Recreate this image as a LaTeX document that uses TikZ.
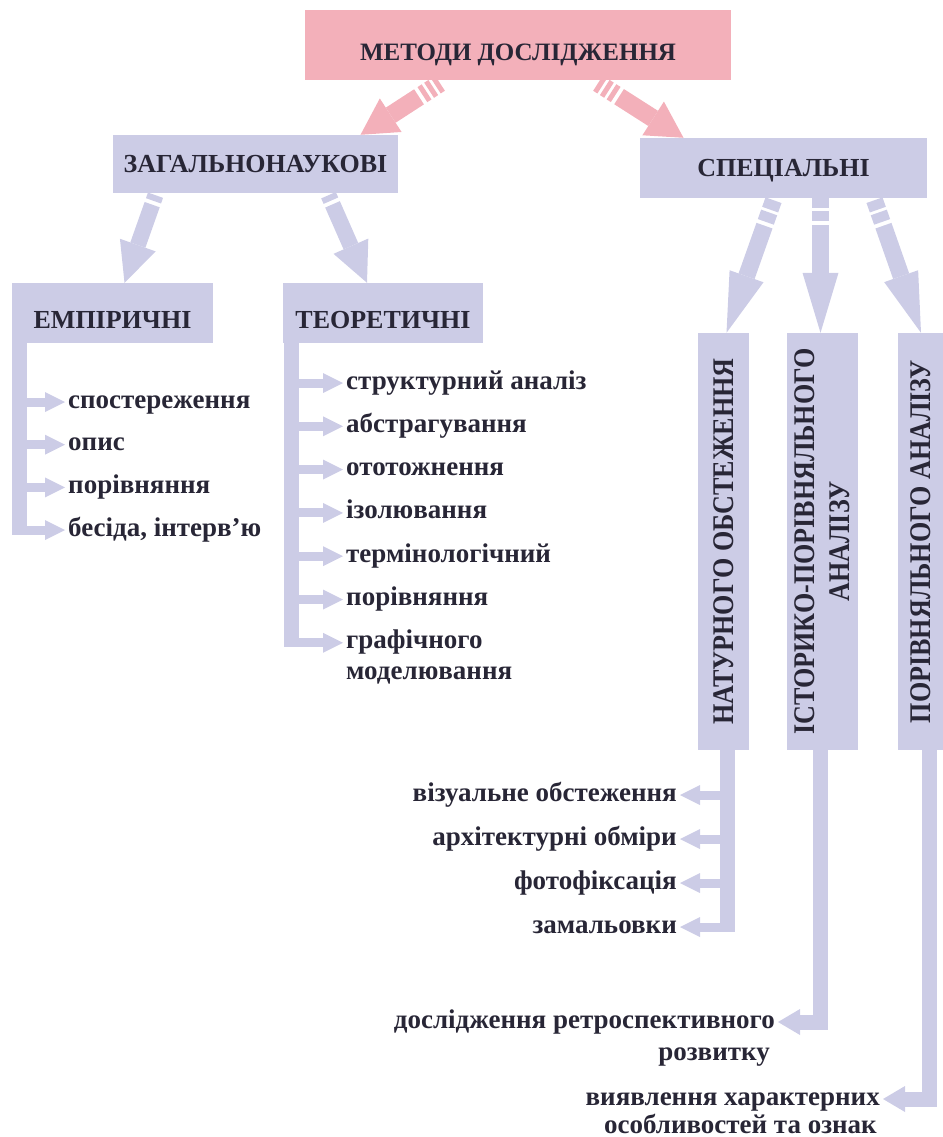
\documentclass[tikz,border=0pt]{standalone}
\usepackage{fontspec}
\setmainfont{Liberation Serif}
\newfontfamily\narrowserif{Liberation Serif}[FakeStretch=0.87]
\usetikzlibrary{arrows.meta}
\usetikzlibrary{positioning}
\usetikzlibrary{calc}
\definecolor{rosefill}{RGB}{243,176,186}
\definecolor{lilacfill}{RGB}{204,204,230}
\definecolor{inkgrey}{RGB}{40,38,54}
\tikzset{
    headbox/.style={fill=rosefill, text=inkgrey, inner sep=0pt,
        font=\bfseries\fontsize{25}{28}\selectfont, text height=31pt, text depth=0pt},
    groupbox/.style={fill=lilacfill, text=inkgrey, inner sep=0pt,
        font=\bfseries\fontsize{26}{29}\selectfont, text height=17pt, text depth=0pt},
    lowtext/.style={text height=30pt},
    columnbox/.style={fill=lilacfill, text=inkgrey, inner sep=0pt, rotate=90, align=center,
        font=\narrowserif\bfseries\fontsize{30}{35}\selectfont},
    item/.style={text=inkgrey, inner sep=3pt,
        font=\bfseries\fontsize{27}{30}\selectfont, text height=12pt, text depth=0pt},
    rosearrow/.style={draw=rosefill, line width=18pt,
        -{Triangle[length=36pt,width=40pt,line width=0pt]},
        dash pattern=on 5pt off 3pt on 5pt off 3pt on 5pt off 4pt on 2000pt off 0pt},
    lilacarrow/.style={draw=lilacfill, line width=16pt,
        -{Triangle[length=40pt,width=38pt,line width=0pt]},
        dash pattern=on 6pt off 4pt on 2000pt off 0pt},
    longarrow/.style={draw=lilacfill, line width=17pt,
        -{Triangle[length=60pt,width=36pt,line width=0pt]},
        dash pattern=on 10pt off 3pt on 10pt off 4pt on 2000pt off 0pt},
    trunk/.style={draw=lilacfill, line width=15pt},
    twig/.style={draw=lilacfill, line width=9pt,
        -{Triangle[length=20pt,width=20pt,line width=0pt]}},
    elbow/.style={draw=lilacfill, line width=15pt,
        -{Triangle[length=22pt,width=26pt,line width=0pt]}},
}
\begin{document}
\begin{tikzpicture}[x=1pt, y=-1pt]
    \useasboundingbox (0,0) rectangle (942,1137);
    % boxes
    \node[headbox, minimum width=426, minimum height=70] (top) at (518,45) {МЕТОДИ ДОСЛІДЖЕННЯ};
    \node[groupbox, minimum width=285, minimum height=58] (zag) at (255.5,164) {ЗАГАЛЬНОНАУКОВІ};
    \node[groupbox, minimum width=287, minimum height=60] (spec) at (783.5,168) {СПЕЦІАЛЬНІ};
    \node[groupbox, lowtext, minimum width=201, minimum height=60] (emp) at (112.5,313) {ЕМПІРИЧНІ};
    \node[groupbox, lowtext, minimum width=200, minimum height=60] (teor) at (383,313) {ТЕОРЕТИЧНІ};
    %
    \node[columnbox, minimum width=417, minimum height=51] (nat) at (723.5,541.5) {НАТУРНОГО ОБСТЕЖЕННЯ};
    \node[columnbox, minimum width=417, minimum height=71] (ist) at (822.5,541.5) {ІСТОРИКО-ПОРІВНЯЛЬНОГО\\АНАЛІЗУ};
    \node[columnbox, minimum width=417, minimum height=46] (por) at (921,541.5) {ПОРІВНЯЛЬНОГО АНАЛІЗУ};
    % big arrows
    \draw[rosearrow] ($(top.south)+(-78,3)$) -- ($(zag.north)+(105,0)$);
    \draw[rosearrow] ($(top.south)+(80,3)$) -- ($(spec.north)+(-100,0)$);
    \draw[lilacarrow] ($(zag.south)+(-100,2)$) -- ($(emp.north)+(12,0)$);
    \draw[lilacarrow] ($(zag.south)+(73,2)$) -- ($(teor.north)+(-16,0)$);
    \draw[longarrow] ($(spec.south)+(-10,2)$) -- ($(nat.east)+(3,0)$);
    \draw[longarrow] ($(spec.south)+(37,0)$) -- ($(ist.east)+(-2,0)$);
    \draw[longarrow] ($(spec.south)+(91,2)$) -- (por.east);
    % empirical
    \foreach \txt [count=\i] in {спостереження, опис, порівняння, {бесіда, інтерв’ю}}
        \node[item, anchor=west] (e\i) at (65,{402+(\i-1)*42.7}) {\txt};
    \coordinate (empstem) at ($(emp.south west)+(7.5,0)$);
    \draw[trunk, shorten >=-4.5pt] (empstem) -- (empstem |- e4.west);
    \foreach \i in {1,...,4}
        \draw[twig] (empstem |- e\i.west) -- (e\i.west);
    % theoretical
    \foreach \txt [count=\i] in {структурний аналіз, абстрагування, ототожнення, ізолювання,
        термінологічний, порівняння, графічного}
        \node[item, anchor=west] (t\i) at (343,{383+(\i-1)*43.3}) {\txt};
    \node[item, below=12pt of t7.south west, anchor=north west] (t8) {моделювання};
    \coordinate (teorstem) at ($(teor.south west)+(8.5,0)$);
    \draw[trunk, shorten >=-4.5pt] (teorstem) -- (teorstem |- t7.west);
    \foreach \i in {1,...,7}
        \draw[twig] (teorstem |- t\i.west) -- (t\i.west);
    % field survey
    \foreach \txt [count=\i] in {візуальне обстеження, архітектурні обміри, фотофіксація, замальовки}
        \node[item, anchor=east] (n\i) at (680,{795+(\i-1)*44}) {\txt};
    \coordinate (natstem) at ($(nat.west)+(4,0)$);
    \draw[trunk, shorten >=-4.5pt] (natstem) -- (natstem |- n4.east);
    \foreach \i in {1,...,4}
        \draw[twig] (natstem |- n\i.east) -- (n\i.east);
    % historical
    \node[item, anchor=east] (r1) at (778,1022) {дослідження ретроспективного};
    \node[item, below=14pt of r1.south east, anchor=north east, xshift=-5pt] (r2) {розвитку};
    \draw[elbow] ($(ist.west)+(-2,0)$) |- (r1.east);
    % comparative
    \node[item, anchor=east] (c1) at (883,1099) {виявлення характерних};
    \node[item, below=10pt of c1.south east, anchor=north east, xshift=-3pt] (c2) {особливостей та ознак};
    \draw[elbow] ($(por.west)+(8.5,0)$) |- (c1.east);
\end{tikzpicture}
\end{document}
